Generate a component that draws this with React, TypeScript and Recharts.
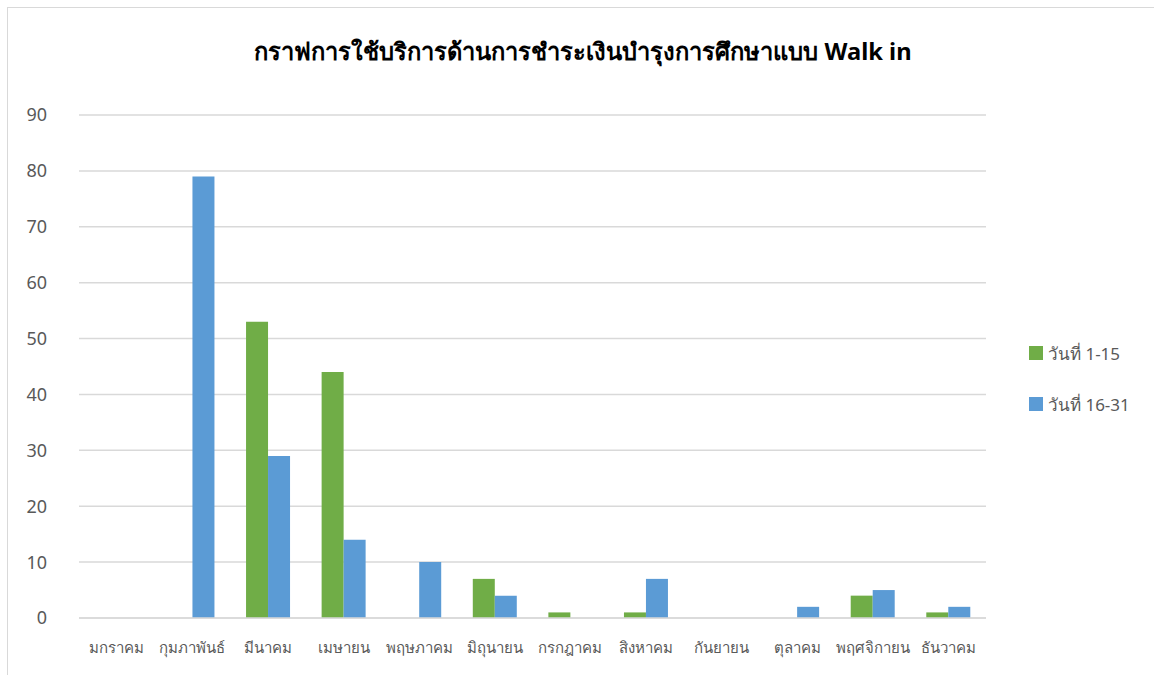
import { BarChart, Bar, XAxis, YAxis, CartesianGrid } from 'recharts';

const months = [
  'มกราคม',
  'กุมภาพันธ์',
  'มีนาคม',
  'เมษายน',
  'พฤษภาคม',
  'มิถุนายน',
  'กรกฎาคม',
  'สิงหาคม',
  'กันยายน',
  'ตุลาคม',
  'พฤศจิกายน',
  'ธันวาคม',
];
const firstHalf = [0, 0, 53, 44, 0, 7, 1, 1, 0, 0, 4, 1];
const secondHalf = [0, 79, 29, 14, 10, 4, 0, 7, 0, 2, 5, 2];
const yTicks = [0, 10, 20, 30, 40, 50, 60, 70, 80, 90];
const seriesNames = ['วันที่ 1-15', 'วันที่ 16-31'];
const colors = ['#70AD47', '#5B9BD5'];

const chartData = months.map((m, i) => ({
  month: m,
  a: firstHalf[i],
  b: secondHalf[i],
}));

const font = '"Noto Sans", Tahoma, sans-serif';

export default function App() {
  return (
    <div
      style={{
        position: 'fixed',
        left: 0,
        top: 0,
        width: 1154,
        height: 675,
        background: '#fff',
        fontFamily: font,
      }}
    >
      {/* chart frame */}
      <div
        style={{
          position: 'absolute',
          left: 7,
          top: 7,
          width: 1150,
          height: 670,
          border: '1px solid #D9D9D9',
          boxSizing: 'border-box',
        }}
      />
      <div
        style={{
          position: 'absolute',
          left: 0,
          top: 33,
          width: 1166,
          textAlign: 'center',
          fontSize: 23.7,
          fontWeight: 'bold',
          color: '#000',
        }}
      >
        กราฟการใช้บริการด้านการชำระเงินบำรุงการศึกษาแบบ Walk in
      </div>

      <div style={{ position: 'absolute', left: 0, top: 0 }}>
        <BarChart
          width={1154}
          height={675}
          data={chartData}
          margin={{ top: 115, right: 168, bottom: 0, left: 0 }}
          barGap={0}
          barCategoryGap="21%"
        >
          <CartesianGrid vertical={false} stroke="#D9D9D9" strokeWidth={1.5} />
          <XAxis
            dataKey="month"
            axisLine={{ stroke: '#D9D9D9', strokeWidth: 1.5 }}
            tickLine={false}
            interval={0}
            height={57}
            tickMargin={18}
            tick={{ fill: '#595959', fontSize: 15, fontFamily: font }}
          />
          <YAxis
            domain={[0, 90]}
            ticks={yTicks}
            width={79}
            axisLine={false}
            tickLine={false}
            tickMargin={26}
            tick={{ fill: '#595959', fontSize: 18, fontFamily: font }}
          />
          <Bar dataKey="a" name={seriesNames[0]} fill={colors[0]} isAnimationActive={false} />
          <Bar dataKey="b" name={seriesNames[1]} fill={colors[1]} isAnimationActive={false} />
        </BarChart>
      </div>

      {/* legend */}
      <div style={{ position: 'absolute', left: 1029, top: 340 }}>
        {seriesNames.map((n, i) => (
          <div
            key={n}
            style={{
              display: 'flex',
              alignItems: 'center',
              height: 26,
              marginBottom: i === 0 ? 25 : 0,
              color: '#595959',
              fontSize: 17,
            }}
          >
            <span
              style={{
                display: 'inline-block',
                width: 14,
                height: 14,
                background: colors[i],
                marginRight: 5,
              }}
            />
            {n}
          </div>
        ))}
      </div>
    </div>
  );
}
